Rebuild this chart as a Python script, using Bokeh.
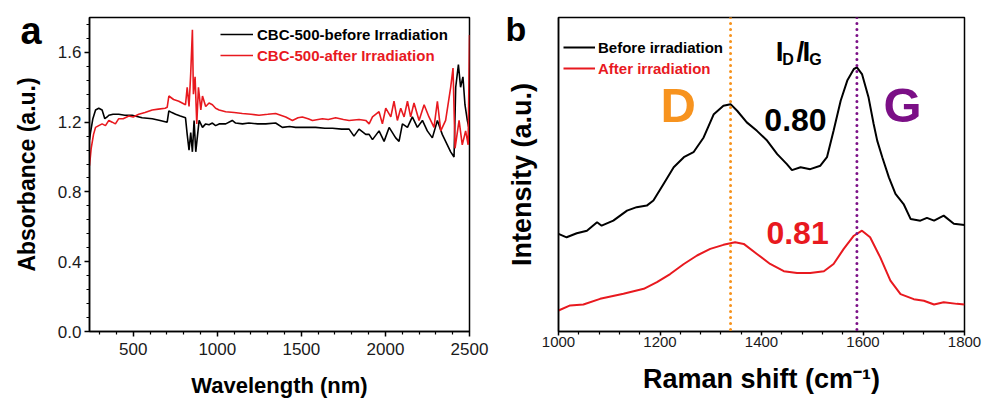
from bokeh.plotting import figure
from bokeh.models import (Range1d, FixedTicker, PrintfTickFormatter, Legend, LegendItem,
                          Label, Span, Title)
from bokeh.layouts import row
from bokeh.embed import file_html
from bokeh.resources import INLINE

# ---------------- data: panel a (UV-vis-NIR absorbance) ----------------
wl_before = [240, 246, 260, 276, 295, 315, 331, 345, 355, 380, 414, 450, 493, 553, 613, 660,
             702, 712, 730, 752, 780, 811, 821, 832, 842, 852, 862, 872, 882, 892, 912, 931,
             951, 971, 990, 1011, 1050, 1089, 1109, 1150, 1188, 1240, 1288, 1347, 1387, 1430,
             1466, 1520, 1585, 1640, 1685, 1740, 1784, 1813, 1843, 1883, 1903, 1923, 1962,
             1992, 2022, 2061, 2081, 2101, 2131, 2160, 2190, 2220, 2249, 2279, 2309, 2338,
             2368, 2388, 2408, 2418, 2434, 2447, 2461, 2473, 2487, 2500]
abs_before = [1.10, 1.14, 1.22, 1.27, 1.28, 1.27, 1.22, 1.23, 1.24, 1.245, 1.245, 1.24, 1.24,
              1.225, 1.22, 1.21, 1.20, 1.265, 1.255, 1.245, 1.235, 1.225, 1.13, 1.04, 1.14,
              1.03, 1.21, 1.03, 1.12, 1.21, 1.17, 1.19, 1.185, 1.195, 1.18, 1.19, 1.19, 1.21,
              1.195, 1.19, 1.195, 1.19, 1.19, 1.195, 1.17, 1.175, 1.17, 1.17, 1.17, 1.165,
              1.165, 1.16, 1.16, 1.12, 1.16, 1.13, 1.13, 1.10, 1.15, 1.09, 1.17, 1.11, 1.09,
              1.19, 1.17, 1.23, 1.17, 1.21, 1.15, 1.11, 1.21, 1.13, 1.07, 1.03, 1.00, 1.40,
              1.53, 1.40, 1.46, 1.30, 1.21, 1.15]

wl_after = [240, 250, 264, 276, 295, 315, 335, 355, 375, 394, 414, 440, 474, 500, 533, 570,
            613, 650, 690, 702, 712, 740, 771, 811, 821, 832, 842, 852, 858, 868, 878, 888,
            902, 912, 931, 951, 971, 990, 1011, 1050, 1100, 1149, 1200, 1248, 1300, 1347,
            1407, 1447, 1480, 1506, 1540, 1566, 1625, 1660, 1704, 1750, 1784, 1843, 1883,
            1903, 1923, 1962, 1982, 2002, 2032, 2051, 2071, 2091, 2111, 2131, 2150, 2170,
            2200, 2230, 2259, 2289, 2309, 2329, 2358, 2388, 2402, 2414, 2438, 2457, 2477,
            2492, 2500]
abs_after = [0.95, 1.05, 1.13, 1.17, 1.18, 1.19, 1.18, 1.21, 1.20, 1.19, 1.22, 1.22, 1.235,
             1.23, 1.245, 1.255, 1.27, 1.275, 1.28, 1.285, 1.35, 1.33, 1.32, 1.30, 1.40, 1.29,
             1.48, 1.73, 1.36, 1.46, 1.19, 1.40, 1.27, 1.35, 1.29, 1.31, 1.30, 1.28, 1.27,
             1.26, 1.255, 1.25, 1.245, 1.24, 1.245, 1.25, 1.23, 1.21, 1.225, 1.23, 1.22, 1.21,
             1.22, 1.215, 1.225, 1.215, 1.21, 1.215, 1.21, 1.19, 1.23, 1.26, 1.19, 1.28, 1.23,
             1.32, 1.21, 1.28, 1.23, 1.32, 1.23, 1.31, 1.21, 1.30, 1.23, 1.17, 1.32, 1.15,
             1.21, 1.40, 1.51, 1.05, 1.21, 1.07, 1.15, 1.07, 1.70]

a_xticks = [500, 1000, 1500, 2000, 2500]
a_xminor = [300, 400, 600, 700, 800, 900, 1100, 1200, 1300, 1400, 1600, 1700, 1800, 1900,
            2100, 2200, 2300, 2400]
a_yticks = [0.0, 0.4, 0.8, 1.2, 1.6]
a_yminor = [0.08, 0.16, 0.24, 0.32, 0.48, 0.56, 0.64, 0.72, 0.88, 0.96, 1.04, 1.12, 1.28,
            1.36, 1.44, 1.52, 1.68, 1.76]

# ---------------- data: panel b (Raman) ----------------
raman_before = [1000, 1016, 1036, 1056, 1076, 1085, 1108, 1135, 1154, 1174, 1187, 1207, 1227,
                1247, 1266, 1286, 1306, 1325, 1339, 1352, 1371, 1391, 1411, 1431, 1450, 1460,
                1477, 1496, 1516, 1529, 1542, 1556, 1569, 1582, 1588, 1598, 1611, 1621, 1628,
                1638, 1651, 1664, 1680, 1694, 1713, 1726, 1740, 1759, 1779, 1800]
int_before = [31.1, 30.0, 31.3, 32.1, 34.8, 33.7, 35.3, 38.5, 39.6, 40.1, 41.7, 47.0, 52.3,
              55.5, 57.1, 61.8, 69.2, 71.9, 72.4, 70.3, 66.6, 63.9, 60.8, 56.5, 53.3, 51.4,
              52.3, 51.7, 52.8, 55.5, 63.9, 73.5, 79.9, 83.6, 84.1, 82.0, 74.5, 66.1, 60.8,
              55.5, 49.1, 43.8, 40.6, 35.8, 35.3, 36.2, 35.3, 36.9, 34.3, 33.9]

raman_after = [1000, 1023, 1049, 1082, 1128, 1168, 1194, 1220, 1247, 1273, 1299, 1325, 1348,
               1365, 1391, 1417, 1444, 1470, 1496, 1523, 1542, 1562, 1582, 1598, 1614, 1634,
               1654, 1674, 1700, 1720, 1740, 1759, 1785, 1800]
int_after = [6.7, 8.3, 8.6, 10.4, 12.0, 13.6, 15.7, 18.3, 21.5, 24.2, 26.3, 27.6, 28.4, 27.9,
             24.7, 21.5, 19.2, 18.6, 18.6, 19.2, 21.5, 26.3, 30.5, 32.1, 30.0, 23.6, 16.2,
             11.9, 10.3, 9.8, 8.6, 9.3, 8.8, 8.6]

b_xticks = [1000, 1200, 1400, 1600, 1800]
b_xminor = [1040, 1080, 1120, 1160, 1240, 1280, 1320, 1360, 1440, 1480, 1520, 1560, 1640,
            1680, 1720, 1760]
d_peak = 1339
g_peak = 1588
ratio_before = "0.80"
ratio_after = "0.81"

RED = "#e8191f"
ORANGE = "#f7931e"
PURPLE = "#7b0f86"
FONT = "Liberation Sans"


def style_axes(p, tick_size, label_size):
    p.outline_line_color = "black"
    p.outline_line_width = 1.5
    p.xgrid.visible = False
    p.ygrid.visible = False
    p.background_fill_color = "white"
    p.border_fill_color = "white"
    for ax in (p.xaxis[0], p.yaxis[0]):
        ax.axis_line_width = 1.5
        ax.major_tick_line_width = 1.5
        ax.minor_tick_line_width = 1.2
        ax.major_tick_in = 0
        ax.major_tick_out = 5
        ax.minor_tick_in = 0
        ax.minor_tick_out = 3
        ax.major_label_text_font = FONT
        ax.major_label_text_font_size = tick_size
        ax.major_label_text_color = "#1a1a1a"
        ax.axis_label_text_font = FONT
        ax.axis_label_text_font_style = "bold"
        ax.axis_label_text_font_size = label_size
        ax.axis_label_text_color = "black"


def panel_letter(text, size, offset, standoff):
    return Title(text=text, align="left", offset=offset, standoff=standoff,
                 vertical_align="bottom", text_font=FONT, text_font_style="bold",
                 text_font_size=size, text_color="black")


# ---------------- panel a ----------------
pa = figure(width=490, height=403, output_backend="svg", toolbar_location=None,
            x_range=Range1d(240, 2500), y_range=Range1d(0, 1.8),
            min_border_left=89, min_border_right=21, min_border_top=17,
            min_border_bottom=72, title=panel_letter("a", "38px", -69, -68))
style_axes(pa, "17px", "22px")
pa.xaxis.ticker = FixedTicker(ticks=a_xticks, minor_ticks=a_xminor)
pa.yaxis.ticker = FixedTicker(ticks=a_yticks, minor_ticks=a_yminor)
pa.yaxis.formatter = PrintfTickFormatter(format="%.1f")
pa.xaxis.axis_label = "Wavelength (nm)"
pa.yaxis.axis_label = "Absorbance (a.u.)"
pa.yaxis.axis_label_text_font_size = "23px"
pa.xaxis.major_label_standoff = 6
pa.xaxis.axis_label_standoff = 15
pa.yaxis.major_label_standoff = 3
pa.yaxis.axis_label_standoff = 15

ra_b = pa.line(wl_before, abs_before, line_color="black", line_width=1.6)
ra_a = pa.line(wl_after, abs_after, line_color=RED, line_width=1.6)

leg_a1 = Legend(items=[LegendItem(label="CBC-500-before Irradiation", renderers=[ra_b])],
                location=(131, 287))
leg_a2 = Legend(items=[LegendItem(label="CBC-500-after Irradiation", renderers=[ra_a])],
                location=(131, 266))
for lg, col in ((leg_a1, "black"), (leg_a2, RED)):
    lg.border_line_color = None
    lg.background_fill_alpha = 0
    lg.padding = 0
    lg.margin = 0
    lg.spacing = 0
    lg.glyph_width = 33
    lg.glyph_height = 20
    lg.label_height = 20
    lg.label_standoff = 4
    lg.label_text_font = FONT
    lg.label_text_font_style = "bold"
    lg.label_text_font_size = "15px"
    lg.label_text_color = col
    pa.add_layout(lg)

# ---------------- panel b ----------------
pb = figure(width=492, height=403, output_backend="svg", toolbar_location=None,
            x_range=Range1d(1000, 1800), y_range=Range1d(0, 100),
            min_border_left=68, min_border_right=18, min_border_top=17,
            min_border_bottom=72, title=panel_letter("b", "34px", -53, -60))
style_axes(pb, "15px", "27px")
pb.xaxis.ticker = FixedTicker(ticks=b_xticks, minor_ticks=b_xminor)
pb.yaxis.ticker = FixedTicker(ticks=[])
pb.xaxis.axis_label = "Raman shift (cm\u207b\u00b9)"
pb.yaxis.axis_label = "Intensity (a.u.)"
pb.xaxis.major_tick_out = 4
pb.xaxis.major_label_standoff = 1
pb.xaxis.axis_label_standoff = 14
pb.yaxis.axis_label_standoff = 22

pb.add_layout(Span(location=d_peak, dimension="height", line_color=ORANGE, line_width=3,
                   line_dash="0 6", line_cap="round"))
pb.add_layout(Span(location=g_peak, dimension="height", line_color=PURPLE, line_width=3,
                   line_dash="0 6", line_cap="round"))

rb_b = pb.line(raman_before, int_before, line_color="black", line_width=2)
rb_a = pb.line(raman_after, int_after, line_color=RED, line_width=2)

leg_b1 = Legend(items=[LegendItem(label="Before irradiation", renderers=[rb_b])],
                location=(5, 274))
leg_b2 = Legend(items=[LegendItem(label="After irradiation", renderers=[rb_a])],
                location=(5, 253))
for lg, col in ((leg_b1, "black"), (leg_b2, RED)):
    lg.border_line_color = None
    lg.background_fill_alpha = 0
    lg.padding = 0
    lg.margin = 0
    lg.spacing = 0
    lg.glyph_width = 32
    lg.glyph_height = 20
    lg.label_height = 20
    lg.label_standoff = 3
    lg.label_text_font = FONT
    lg.label_text_font_style = "bold"
    lg.label_text_font_size = "15px"
    lg.label_text_color = col
    pb.add_layout(lg)


def lab(p, x, y, text, size, color, align="center"):
    p.add_layout(Label(x=x, y=y, text=text, text_font=FONT, text_font_style="bold",
                       text_font_size=size, text_color=color, text_align=align,
                       text_baseline="alphabetic"))


lab(pb, 1236, 72.0, "D", "49px", ORANGE)
lab(pb, 1678, 72.0, "G", "49px", PURPLE)
lab(pb, 1467, 67.5, ratio_before, "32px", "black")
lab(pb, 1471, 31.3, ratio_after, "32px", RED)
# I_D / I_G
lab(pb, 1428, 89.2, "I", "28px", "black", "left")
lab(pb, 1441, 86.5, "D", "16px", "black", "left")
lab(pb, 1469, 89.2, "/", "28px", "black", "left")
lab(pb, 1481, 89.2, "I", "28px", "black", "left")
lab(pb, 1494, 86.5, "G", "16px", "black", "left")

layout = row(pa, pb)
open("out.html", "w").write(file_html(layout, INLINE))
